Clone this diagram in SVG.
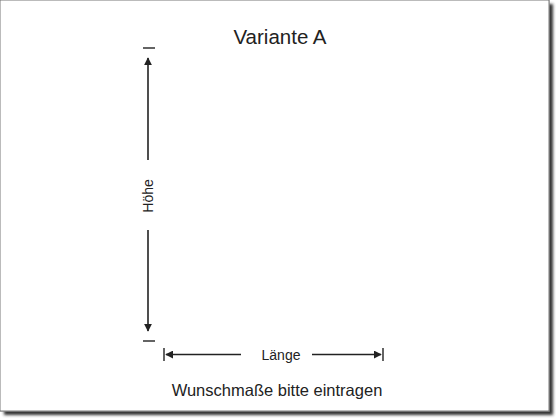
<svg xmlns="http://www.w3.org/2000/svg" width="560" height="420" viewBox="0 0 560 420">
<defs>
<style>
.ln{stroke:#222;stroke-width:1.6;fill:none}
.tk{stroke:#222;stroke-width:1.4;fill:none}
.t{font-family:"Liberation Sans",Arial,sans-serif;fill:#222}
</style>
<marker id="ah" viewBox="0 0 10 10" refX="9" refY="5" markerWidth="5" markerHeight="5" orient="auto" markerUnits="strokeWidth">
<path d="M0,0 L10,5 L0,10 z" fill="#222"/>
</marker>
<filter id="sh" x="-5%" y="-5%" width="115%" height="115%">
<feGaussianBlur stdDeviation="1.6"/>
</filter>
</defs>
<rect width="560" height="420" fill="#fff"/>
<rect x="4" y="4" width="549" height="411" fill="#333" filter="url(#sh)"/>
<rect x="0" y="0" width="549" height="411" fill="#fff" stroke="#888" stroke-width="1.5"/>
<rect x="0.75" y="0.75" width="547.5" height="409.5" fill="#fff"/>
<g id="title"><text class="t" x="280" y="44" font-size="20.5" text-anchor="middle" fill="#111">Variante A</text></g>
<g id="connectors">
<line class="tk" x1="143" y1="48" x2="155" y2="48"/>
<line class="ln" x1="148" y1="160" x2="148" y2="58" marker-end="url(#ah)"/>
<line class="ln" x1="148" y1="230" x2="148" y2="331" marker-end="url(#ah)"/>
<line class="tk" x1="143" y1="341" x2="155" y2="341"/>
<line class="tk" x1="164" y1="348" x2="164" y2="361"/>
<line class="ln" x1="241" y1="354.5" x2="166" y2="354.5" marker-end="url(#ah)"/>
<line class="ln" x1="312" y1="354.5" x2="381" y2="354.5" marker-end="url(#ah)"/>
<line class="tk" x1="383" y1="348" x2="383" y2="361"/>
</g>
<g id="hoehe"><text class="t" x="0" y="0" font-size="14" text-anchor="middle" transform="translate(153,196) rotate(-90)">Höhe</text></g>
<g id="laenge"><text class="t" x="281" y="359.5" font-size="14" text-anchor="middle">Länge</text></g>
<g id="note"><text class="t" x="277" y="396" font-size="16.5" text-anchor="middle" fill="#333">Wunschmaße bitte eintragen</text></g>
</svg>
